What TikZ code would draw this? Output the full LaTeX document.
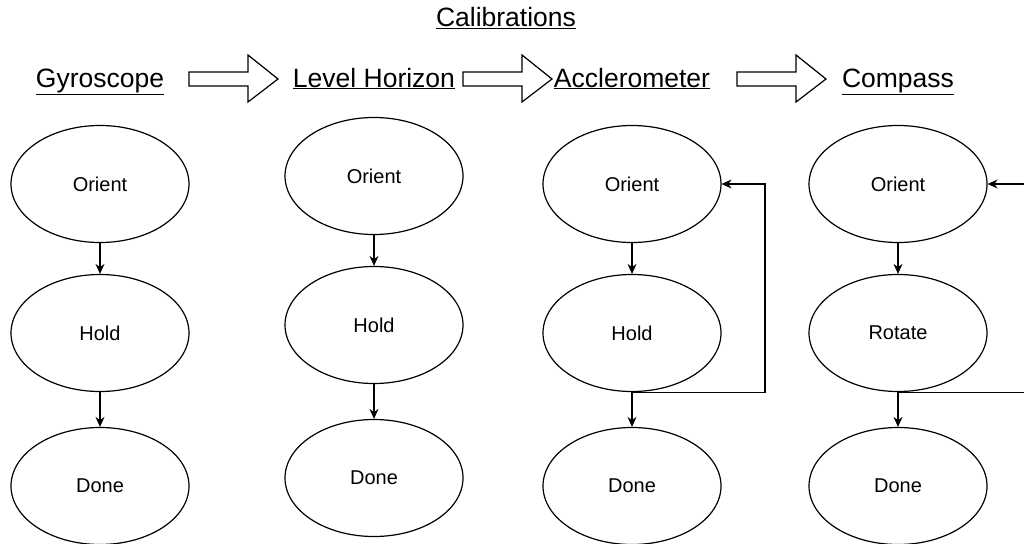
\documentclass[tikz,border=0pt]{standalone}
\usepackage{fontspec}
\setmainfont{Liberation Sans}
\usetikzlibrary{calc,positioning,arrows.meta,shapes.geometric}
\tikzset{st/.style={draw,ellipse,minimum width=178pt,minimum height=117pt,inner
sep=0pt,line width=1.2pt,text=black,font=\fontsize{20}{24}\selectfont},hd/.style={inner
sep=0pt,anchor=base,font=\fontsize{26.5}{30}\selectfont},ar/.style={-{Stealth[length=10pt,width=9pt]},line width=1.2pt}}

\begin{document}
\begin{tikzpicture}[x=1pt,y=-1pt]
		\clip (0,0) rectangle (1024,543);
		\node[hd] (cal) at (506,27) {\underline{Calibrations}};
		\foreach \c/\x/\dy/\t/\m in {
				1/100/0/Gyroscope/Hold,
				2/374/-8/Level Horizon/Hold,
				3/632/0/Acclerometer/Hold,
				4/898/0/Compass/Rotate
			}{
		\node[hd] (t\c) at (\x,87) {\underline{\t}};
		\node[st] (o\c) at (\x,184+\dy) {Orient};
		\node[st] (h\c) at (\x,333+\dy) {\m};
		\node[st] (d\c) at (\x,486+\dy) {Done};
		\draw[ar] (o\c) -- (h\c);
		\draw[ar] (h\c) -- (d\c);
		}
		% block arrows between the titles
		\foreach \a in {189,463,737}
		\draw[line width=1.2pt] (\a,72) -- (\a+59,72) -- (\a+59,55) -- (\a+89,79)
		-- (\a+59,102) -- (\a+59,86) -- (\a,86) -- cycle;
		% loops back to orient
		\draw[ar] (h3.south) -- ++(133,0) |- (o3.east);
		\draw[ar] (h4.south) -- ++(150,0) |- (o4.east);
	\end{tikzpicture}
\end{document}
